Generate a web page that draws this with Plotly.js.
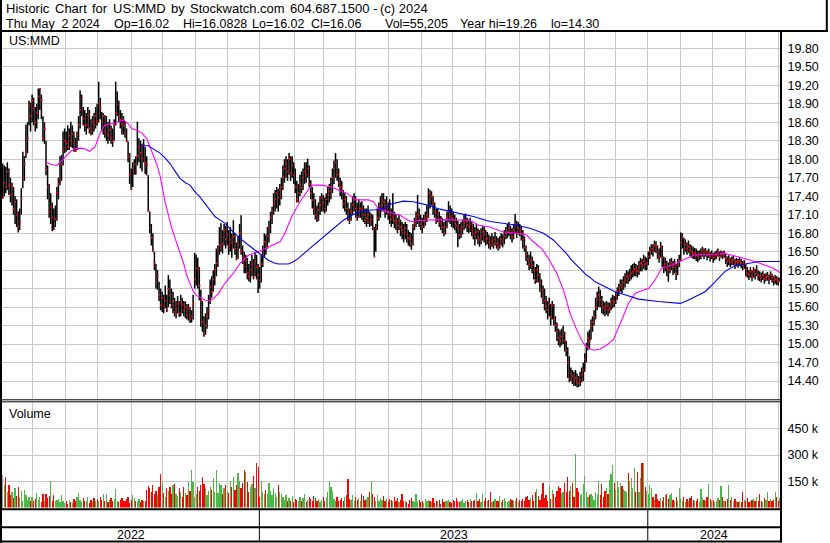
<!DOCTYPE html>
<html><head><meta charset="utf-8">
<script src="https://cdn.plot.ly/plotly-3.0.1.min.js"></script>
<style>html,body{margin:0;padding:0;background:#fff;}#chart{width:830px;height:543px;}</style>
</head><body><div id="chart"></div>
<script>
// ---- data (one entry per trading day, May 3 2022 .. May 2 2024) ----
const close = [
17.38,17.62,17.55,17.80,17.58,17.42,17.55,17.19,17.30,17.10,
16.92,16.99,17.35,17.70,17.92,18.10,18.34,18.88,18.70,18.95,
18.83,18.60,18.75,19.02,19.14,18.96,18.33,18.49,17.83,17.55,
17.15,17.23,17.05,16.87,17.03,17.45,17.60,17.68,17.92,18.15,
18.30,18.26,18.20,18.38,18.30,18.41,18.25,18.13,18.40,18.56,
18.80,18.97,18.66,18.55,18.56,18.72,18.50,18.45,18.61,18.55,
18.70,18.62,18.90,18.83,18.61,18.70,18.45,18.56,18.40,18.48,
18.35,18.30,18.55,18.75,18.89,18.70,18.64,18.58,18.55,18.42,
18.30,18.05,17.75,17.52,17.85,17.92,17.80,18.05,18.20,18.10,
18.02,18.23,17.95,17.91,17.16,16.88,16.72,16.53,16.31,16.01,
16.10,15.80,15.63,15.75,15.61,15.70,15.55,15.90,15.80,15.63,
15.70,15.52,15.58,15.65,15.50,15.66,15.63,15.55,15.60,15.48,
15.58,15.40,15.45,15.65,16.05,16.23,16.21,15.95,15.70,15.36,
15.16,15.30,15.45,15.53,15.93,15.85,16.05,16.20,16.31,16.53,
16.60,16.74,16.62,16.85,16.70,16.78,16.60,16.69,16.64,16.74,
16.55,16.39,16.62,16.80,16.50,16.40,16.26,16.35,16.15,16.09,
16.20,16.28,16.10,16.34,16.25,16.12,16.04,16.30,16.45,16.66,
16.60,16.75,16.88,17.05,17.15,17.28,17.35,17.45,17.38,17.50,
17.55,17.70,17.85,17.93,17.80,18.01,17.77,17.90,17.74,17.55,
17.34,17.45,17.60,17.53,17.70,17.80,17.75,17.85,17.60,17.45,
17.34,17.20,17.10,17.04,17.18,17.25,17.37,17.30,17.20,17.35,
17.42,17.48,17.55,17.70,17.85,17.95,17.75,17.61,17.55,17.50,
17.28,17.35,17.20,17.12,17.01,17.15,17.25,17.34,17.20,17.07,
17.15,17.20,17.18,17.10,17.01,17.05,17.10,16.98,17.02,16.90,
16.42,16.88,17.05,17.15,17.25,17.34,17.30,17.20,17.25,17.15,
17.09,17.02,17.07,17.00,16.98,16.92,17.00,16.90,16.85,16.80,
16.88,16.78,16.72,16.70,16.63,16.90,16.95,17.05,17.10,17.01,
16.95,16.90,17.00,17.05,17.09,17.46,17.35,17.40,17.28,17.15,
17.04,17.10,16.98,16.95,16.90,16.80,16.90,17.05,17.15,17.08,
17.05,17.01,16.95,16.92,16.88,16.77,16.85,16.90,16.96,17.00,
16.93,16.90,16.95,16.85,16.80,16.75,16.82,16.72,16.69,16.75,
16.82,16.78,16.70,16.72,16.65,16.60,16.68,16.62,16.70,16.63,
16.58,16.62,16.70,16.66,16.75,16.80,16.82,16.88,16.80,16.74,
16.85,16.95,16.80,16.88,16.84,16.80,16.70,16.57,16.45,16.38,
16.28,16.35,16.28,16.20,16.04,16.20,16.12,16.00,15.88,15.75,
15.70,15.61,15.55,15.65,15.44,15.63,15.40,15.31,15.20,15.10,
15.04,15.12,15.17,15.05,14.90,14.70,14.44,14.52,14.48,14.41,
14.45,14.38,14.36,14.42,14.50,14.58,14.75,14.96,15.10,15.05,
15.29,15.35,15.44,15.60,15.72,15.80,15.72,15.65,15.60,15.56,
15.62,15.55,15.58,15.65,15.70,15.68,15.77,15.85,15.90,15.96,
15.92,16.00,16.04,16.10,16.07,16.12,16.15,16.18,16.22,16.20,
16.18,16.25,16.31,16.28,16.35,16.30,16.31,16.42,16.50,16.55,
16.52,16.61,16.58,16.50,16.42,16.58,16.40,16.26,16.30,16.22,
16.20,16.28,16.32,16.25,16.30,16.15,16.28,16.36,16.65,16.74,
16.55,16.62,16.55,16.58,16.52,16.50,16.46,16.48,16.44,16.42,
16.45,16.47,16.52,16.46,16.50,16.45,16.48,16.42,16.46,16.40,
16.44,16.45,16.50,16.42,16.47,16.45,16.48,16.40,16.34,16.38,
16.33,16.36,16.36,16.30,16.34,16.32,16.35,16.31,16.28,16.30,
16.22,16.15,16.12,16.18,16.10,16.18,16.14,16.20,16.12,16.10,
16.08,16.12,16.06,16.09,16.10,16.05,16.12,16.08,16.03,16.05,
16.04,16.02,16.06];

const high = [
17.93,17.90,17.88,17.95,17.85,17.70,17.62,17.55,17.40,17.35,
17.15,17.20,17.53,18.12,18.05,18.56,18.60,18.95,18.92,19.05,
19.00,18.85,18.90,19.15,19.15,19.05,18.70,18.60,18.30,17.90,
17.60,17.45,17.30,17.20,17.25,17.55,17.70,18.05,18.07,18.45,
18.50,18.45,18.55,18.50,18.61,18.55,18.45,18.35,18.45,18.70,
19.12,19.05,18.85,18.80,18.75,18.85,18.80,18.65,18.70,18.75,
18.85,18.90,19.26,19.00,18.77,18.75,18.72,18.70,18.60,18.65,
18.55,18.50,18.65,19.26,19.10,18.95,18.80,18.75,18.70,18.62,
18.50,18.29,18.10,17.85,17.95,18.00,18.05,18.61,18.34,18.30,
18.25,18.33,18.20,18.05,17.74,17.15,16.95,16.80,16.50,16.30,
16.20,16.01,15.90,15.85,15.80,15.95,15.80,16.12,16.05,15.90,
15.85,15.75,15.70,15.78,15.70,15.80,15.75,15.70,15.69,15.65,
15.65,15.60,15.55,15.80,16.48,16.45,16.40,16.25,15.88,15.70,
15.45,15.50,15.60,15.80,16.05,16.10,16.20,16.30,16.55,16.60,
16.90,16.96,16.85,16.95,16.92,16.98,16.85,16.90,16.80,17.01,
16.80,16.65,16.75,16.95,17.09,16.60,16.50,16.45,16.40,16.30,
16.35,16.45,16.38,16.50,16.45,16.30,16.25,16.45,16.60,16.80,
16.78,16.90,17.00,17.15,17.23,17.45,17.50,17.55,17.52,17.60,
17.70,17.90,18.00,18.05,18.00,18.10,18.05,18.05,17.95,17.85,
17.65,17.60,17.75,17.80,17.85,17.95,17.95,18.01,17.90,17.66,
17.55,17.45,17.35,17.25,17.30,17.40,17.45,17.42,17.38,17.45,
17.55,17.60,17.70,17.85,17.98,18.10,18.00,17.85,17.70,17.65,
17.50,17.45,17.40,17.30,17.20,17.30,17.40,17.45,17.40,17.30,
17.35,17.30,17.32,17.25,17.20,17.20,17.25,17.15,17.12,17.10,
16.90,16.95,17.20,17.30,17.40,17.45,17.45,17.35,17.40,17.30,
17.35,17.20,17.45,17.15,17.10,17.05,17.10,17.02,16.98,16.95,
16.98,16.95,16.85,16.82,16.80,16.95,17.05,17.15,17.42,17.20,
17.10,17.05,17.10,17.15,17.25,17.53,17.50,17.48,17.40,17.30,
17.20,17.20,17.15,17.08,17.05,16.98,17.02,17.15,17.32,17.25,
17.20,17.15,17.10,17.05,17.00,16.95,16.98,17.02,17.10,17.12,
17.05,17.02,17.05,16.98,16.95,16.90,16.95,16.88,16.85,16.88,
16.92,16.90,16.85,16.82,16.78,16.75,16.80,16.75,16.82,16.75,
16.72,16.75,16.80,16.78,16.85,16.90,16.95,16.98,16.92,16.88,
16.95,17.11,17.00,16.98,16.95,16.92,16.85,16.75,16.60,16.50,
16.45,16.50,16.42,16.35,16.25,16.30,16.28,16.15,16.05,15.95,
15.90,15.78,15.70,15.75,15.65,15.70,15.65,15.45,15.35,15.25,
15.22,15.25,15.30,15.20,15.05,14.95,14.80,14.62,14.58,14.55,
14.58,14.52,14.48,14.55,14.62,14.70,14.85,15.02,15.20,15.23,
15.40,15.45,15.55,15.75,15.85,15.93,15.88,15.78,15.70,15.68,
15.70,15.68,15.67,15.75,15.80,15.78,15.85,15.92,15.98,16.05,
16.05,16.10,16.15,16.20,16.18,16.22,16.28,16.30,16.32,16.30,
16.28,16.35,16.40,16.38,16.45,16.42,16.40,16.50,16.58,16.62,
16.62,16.68,16.67,16.60,16.55,16.66,16.60,16.42,16.40,16.35,
16.32,16.38,16.40,16.35,16.38,16.30,16.38,16.45,16.81,16.80,
16.72,16.70,16.65,16.68,16.62,16.60,16.58,16.56,16.55,16.52,
16.52,16.55,16.58,16.55,16.56,16.52,16.55,16.50,16.52,16.48,
16.50,16.52,16.55,16.50,16.52,16.50,16.52,16.48,16.42,16.44,
16.40,16.42,16.43,16.38,16.40,16.38,16.41,16.38,16.35,16.36,
16.30,16.25,16.20,16.25,16.20,16.25,16.22,16.28,16.20,16.18,
16.16,16.18,16.14,16.15,16.17,16.13,16.18,16.14,16.10,16.12,
16.10,16.08,16.08];

const low = [
17.36,17.40,17.45,17.50,17.42,17.30,17.25,17.10,16.95,16.90,
16.81,16.85,17.10,17.53,17.65,18.02,18.10,18.55,18.45,18.60,
18.55,18.45,18.50,18.65,18.80,18.65,18.29,18.25,17.74,17.35,
17.05,16.95,16.83,16.85,16.90,17.00,17.35,17.58,17.65,17.90,
18.10,18.12,18.15,18.15,18.20,18.18,18.12,18.12,18.15,18.30,
18.50,18.70,18.55,18.45,18.40,18.50,18.42,18.39,18.40,18.45,
18.50,18.55,18.60,18.65,18.45,18.40,18.35,18.30,18.25,18.30,
18.25,18.20,18.30,18.55,18.70,18.60,18.50,18.40,18.40,18.35,
18.28,17.95,17.60,17.50,17.55,17.75,17.75,17.90,17.95,17.85,
17.80,17.95,17.76,17.74,17.15,16.80,16.60,16.50,16.20,15.90,
15.88,15.70,15.55,15.52,15.50,15.58,15.52,15.60,15.65,15.58,
15.50,15.45,15.42,15.50,15.44,15.45,15.50,15.45,15.42,15.40,
15.38,15.34,15.35,15.40,15.90,15.95,15.90,15.71,15.28,15.20,
15.12,15.15,15.25,15.40,15.65,15.75,15.85,15.95,16.10,16.25,
16.45,16.50,16.47,16.60,16.55,16.60,16.45,16.50,16.40,16.55,
16.45,16.36,16.38,16.55,16.45,16.30,16.15,16.15,16.05,16.02,
16.00,16.10,16.05,16.10,16.05,15.83,15.90,16.00,16.25,16.40,
16.45,16.55,16.65,16.80,16.95,17.10,17.15,17.20,17.15,17.25,
17.35,17.50,17.62,17.70,17.65,17.75,17.65,17.70,17.60,17.45,
17.30,17.30,17.40,17.45,17.50,17.60,17.62,17.70,17.55,17.35,
17.20,17.10,17.02,16.98,17.00,17.10,17.15,17.15,17.12,17.15,
17.25,17.30,17.35,17.45,17.60,17.70,17.65,17.55,17.40,17.35,
17.20,17.15,17.10,17.00,16.95,17.00,17.10,17.15,17.05,17.00,
17.05,17.05,17.02,16.98,16.95,16.90,16.95,16.90,16.92,16.85,
16.42,16.50,16.85,17.00,17.05,17.15,17.15,17.05,17.10,17.02,
16.95,16.90,16.95,16.88,16.85,16.80,16.85,16.75,16.70,16.65,
16.70,16.65,16.60,16.58,16.53,16.60,16.85,16.90,16.95,16.90,
16.85,16.80,16.88,16.92,16.98,17.05,17.20,17.25,17.10,17.05,
16.95,16.98,16.90,16.85,16.80,16.75,16.78,16.88,16.98,16.95,
16.90,16.88,16.85,16.80,16.57,16.70,16.72,16.78,16.85,16.88,
16.82,16.80,16.82,16.75,16.70,16.60,16.70,16.62,16.58,16.62,
16.68,16.65,16.60,16.62,16.55,16.53,16.58,16.55,16.60,16.55,
16.52,16.55,16.60,16.57,16.62,16.70,16.72,16.75,16.70,16.65,
16.70,16.80,16.72,16.78,16.75,16.68,16.55,16.50,16.35,16.28,
16.20,16.22,16.15,16.05,15.98,16.00,16.00,15.85,15.75,15.65,
15.55,15.50,15.40,15.45,15.30,15.40,15.30,15.20,15.05,14.98,
14.95,14.98,15.00,14.88,14.80,14.45,14.38,14.40,14.35,14.32,
14.32,14.30,14.30,14.32,14.38,14.40,14.55,14.70,14.90,14.92,
15.07,15.20,15.30,15.40,15.55,15.60,15.60,15.50,15.48,15.45,
15.48,15.45,15.50,15.55,15.58,15.60,15.65,15.72,15.78,15.85,
15.82,15.88,15.92,15.98,15.98,16.02,16.05,16.08,16.10,16.10,
16.08,16.12,16.18,16.18,16.22,16.20,16.20,16.28,16.38,16.45,
16.42,16.50,16.48,16.38,16.32,16.40,16.25,16.15,16.18,16.10,
16.01,16.15,16.20,16.12,16.15,16.04,16.12,16.25,16.35,16.55,
16.45,16.50,16.45,16.48,16.42,16.40,16.38,16.38,16.35,16.33,
16.36,16.38,16.42,16.38,16.42,16.36,16.40,16.34,16.38,16.32,
16.36,16.38,16.42,16.35,16.40,16.38,16.40,16.30,16.25,16.28,
16.25,16.28,16.28,16.22,16.26,16.24,16.27,16.23,16.20,16.22,
16.10,16.08,16.04,16.08,16.02,16.08,16.05,16.10,16.03,16.02,
16.00,16.04,15.98,16.02,16.03,15.97,16.04,16.00,15.95,15.98,
15.96,15.95,16.02];

// daily volume, thousands of shares
const volumeK = [
186,129,177,90,129,70,91,55,110,65,
120,60,95,40,100,72,45,63,40,58,
35,50,82,45,63,30,75,40,75,55,
65,152,40,72,35,45,50,30,72,40,
25,35,20,45,30,25,50,40,60,85,
45,30,55,40,35,60,25,45,30,55,
40,50,35,60,45,75,40,78,30,45,
55,35,50,106,40,30,45,55,35,40,
50,60,25,45,70,55,40,35,50,30,
45,35,40,100,125,110,90,130,75,95,
70,115,192,148,85,60,110,95,120,75,
130,133,80,65,110,90,60,120,85,70,
148,95,215,148,60,75,115,95,130,177,
133,110,70,95,120,100,167,90,215,85,
140,129,75,110,130,95,85,150,120,177,
100,130,196,152,110,140,215,201,148,90,
120,135,180,110,253,234,60,152,90,75,
100,80,139,95,70,110,85,60,129,90,
80,60,45,70,35,55,40,65,30,50,
45,35,60,40,55,75,30,45,60,50,
40,65,55,35,50,30,45,60,40,55,
90,144,120,95,50,40,60,35,45,55,
40,60,70,163,50,45,70,35,60,45,
55,40,75,65,45,50,60,90,152,76,
60,40,70,35,55,45,65,40,50,35,
50,45,35,60,40,55,30,45,78,40,
35,30,20,45,55,40,30,76,35,45,
30,40,25,50,35,45,40,30,55,25,
40,35,45,20,50,30,40,35,45,30,
25,45,35,55,40,30,35,50,25,40,
45,30,50,35,40,45,82,35,50,30,
76,40,55,35,45,91,30,40,50,35,
40,65,30,45,55,35,30,40,50,45,
35,40,55,30,45,40,50,35,60,65,
45,55,70,40,90,106,65,45,80,139,
55,70,40,125,50,100,80,60,95,125,
110,85,90,140,90,177,95,125,139,60,
304,110,90,70,80,133,180,90,60,70,
75,65,45,90,80,152,70,133,60,95,
110,80,158,190,243,139,100,152,120,139,
125,105,95,90,196,152,167,110,228,90,
205,90,171,253,253,120,95,75,129,110,
60,45,75,50,40,55,35,60,72,80,
50,70,82,45,40,60,35,110,55,40,
60,30,50,40,55,65,45,35,40,50,
30,104,55,45,40,60,133,50,35,45,
30,40,55,45,125,60,40,35,50,129,
45,60,35,50,40,30,40,30,91,45,
35,55,30,40,45,50,35,60,40,78,
40,30,55,45,86,40,50,35,45,87,
60,40,55];

// moving averages as drawn (bar position, value)
const maShortIdx = [28,31,35,38,41.3,44,46.7,50,53,56,59.6,62.9,66,71.5,75,77.9,81,83.3,87.6,90,93,95,97.3,99.5,101.6,103,104.9,107,109.2,112,114.5,117,118.8,121,123.2,125,127,130.7,133.9,136.5,139.3,143.6,149,153.3,158.7,165.1,172.6,179.1,182.3,186.7,192,196.3,199.6,206,212.5,216.8,222.2,228.6,236.2,239.4,242.6,248,253.4,256.7,263.1,271.7,282.5,293.3,301.9,307.3,314.8,323.4,332,338.5,342.8,348.2,352.5,357.9,362.2,366.5,370.8,375.1,378.3,382,386,390,394.5,399.9,404.2,408.5,413,417.1,421.4,425.7,432.2,440.8,447.3,455.9,466.6,473.1,479.6,486,492.5,497.9,502];
const maShortVal = [17.95,17.92,17.90,17.98,18.07,18.13,18.17,18.18,18.17,18.13,18.20,18.42,18.56,18.58,18.61,18.64,18.58,18.50,18.46,18.42,18.34,18.22,18.07,17.92,17.74,17.55,17.31,17.10,16.88,16.67,16.50,16.30,16.12,15.98,15.85,15.79,15.77,15.71,15.70,15.75,15.82,15.99,16.15,16.31,16.44,16.50,16.58,16.66,16.80,17.07,17.31,17.47,17.58,17.58,17.55,17.50,17.45,17.34,17.34,17.31,17.20,17.15,17.12,17.09,16.99,17.01,17.02,17.02,17.01,16.93,16.90,16.82,16.80,16.77,16.66,16.55,16.39,16.15,15.88,15.50,15.23,15.01,14.93,14.90,14.92,14.98,15.07,15.39,15.66,15.82,15.87,15.90,16.04,16.23,16.28,16.38,16.45,16.45,16.47,16.43,16.39,16.34,16.28,16.23,16.16];
const maLongIdx = [88.7,91,94.1,97,101.6,105,108.1,111,114.5,118,121,124.2,127,130.7,134,137.1,140,143.6,148,152.2,158,163,167,171.6,175,178,184.5,188,191,195,199.6,203,206,210,213.6,217,220,225.4,231.9,240.5,246.9,250.2,253.4,258.8,265.3,273.9,282.5,293.3,304,314.8,323.4,332,340.6,349.3,355.7,361.1,364.5,367.6,371,374,377,379,382.7,389.1,395.6,402,410.7,423.6,437.6,441,445.1,449,453.7,457,460.2,463.5,466.6,470,473.1,479.6,483.9,488.2,495,502.1];
const maLongVal = [18.20,18.22,18.22,18.17,18.10,18.02,17.93,17.82,17.69,17.62,17.58,17.47,17.40,17.28,17.18,17.07,17.02,16.96,16.84,16.74,16.62,16.53,16.45,16.36,16.32,16.30,16.30,16.34,16.39,16.48,16.58,16.65,16.72,16.80,16.88,16.95,17.01,17.09,17.16,17.18,17.20,17.27,17.29,17.32,17.31,17.26,17.19,17.13,17.07,16.99,16.96,16.93,16.88,16.80,16.69,16.55,16.46,16.36,16.28,16.20,16.12,16.09,16.01,15.93,15.85,15.80,15.73,15.69,15.66,15.69,15.74,15.79,15.85,15.93,16.01,16.10,16.18,16.23,16.27,16.30,16.32,16.34,16.34,16.34];

// calendar: month gridline positions (in bar units) and years
const monthGridIdx = [19.1,40.7,61.4,82.9,103.1,124.7,145.4,165.8,188.2,207.1,228.2,249.1,270.7,290.7,312.0,333.7,353.5,375.5,396.0,416.7,437.6,458.4,479.6,501.0];
const yearLabels = ['2022','2023','2024'];
const yearLabelIdx = [82.7,291.3,459.4];
const yearBreakIdx = [165.8,416.7];

const priceTicks = [14.40,14.70,15.00,15.30,15.60,15.90,16.20,16.50,16.80,17.10,17.40,17.70,18.00,18.30,18.60,18.90,19.20,19.50,19.80];
const volTicks = [150,300,450];
const volTickText = ['150 k','300 k','450 k'];

const headerLine1Words = ['Historic','Chart','for','US:MMD','by','Stockwatch.com','604.687.1500 -','(c) 2024'];
const headerLine1X = [6,54.8,92.1,112.8,171,190.2,289.5,380];
const headerFields = ['Thu May\u00a0\u00a02 2024','Op=16.02','Hi=16.0828','Lo=16.02','Cl=16.06','Vol=55,205','Year hi=19.26','lo=14.30'];
const headerFieldX = [6,114.3,182.7,252,310.7,385,460,550.7];
const symbolLabel = 'US:MMD';
const volumeLabel = 'Volume';

// ---- build traces ----
const W = 830, H = 543;
const px = v => v / W;
const py = v => 1 - v / H;

const barX = [], barY = [];
for (let i = 0; i < close.length; i++) {
  barX.push(i, i, null);
  barY.push(low[i], high[i], null);
}
const idx = close.map((_, i) => i);
const closeX = idx.map(i => i + 0.2);
const volColors = close.map((c, i) => {
  if (i === 0) return '#a0a0a0';
  if (c > close[i - 1]) return '#4cb848';
  if (c < close[i - 1]) return '#ff0000';
  return '#a0a0a0';
});

const traces = [
  {type:'scatter', mode:'lines', x:barX, y:barY, xaxis:'x', yaxis:'y',
   line:{color:'#000', width:1.5}, hoverinfo:'skip', connectgaps:false},
  {type:'scatter', mode:'markers', x:closeX, y:close, xaxis:'x', yaxis:'y',
   marker:{symbol:'square', size:1.7, color:'#ff0000', line:{width:0}}, hoverinfo:'skip'},
  {type:'scatter', mode:'lines', x:maShortIdx, y:maShortVal, xaxis:'x', yaxis:'y',
   line:{color:'#ff00ff', width:1.1}, hoverinfo:'skip'},
  {type:'scatter', mode:'lines', x:maLongIdx, y:maLongVal, xaxis:'x', yaxis:'y',
   line:{color:'#0000ff', width:1.1}, hoverinfo:'skip'},
  {type:'bar', x:idx, y:volumeK, xaxis:'x2', yaxis:'y2', width:0.8,
   marker:{color:volColors, line:{width:0}}, hoverinfo:'skip'}
];

const gridColor = '#c8c8c8';
const fontFam = 'Arial, "Liberation Sans", sans-serif';
const xCommon = {
  range:[-0.45, 502.1], tickvals:monthGridIdx, showticklabels:false, ticks:'',
  showgrid:true, gridcolor:gridColor, gridwidth:1, zeroline:false, showline:false, fixedrange:true
};

const shapes = [];
function hline(y, x0, x1, w) {
  shapes.push({type:'line', xref:'paper', yref:'paper', x0:px(x0), x1:px(x1), y0:py(y), y1:py(y),
    line:{color:'#000', width:w}});
}
function vline(x, y0, y1, w) {
  shapes.push({type:'line', xref:'paper', yref:'paper', x0:px(x), x1:px(x), y0:py(y0), y1:py(y1),
    line:{color:'#000', width:w}});
}
hline(31, 0, 828, 2);        // header bottom
vline(826.8, 0, 31, 2);      // header right edge
vline(1, 0, 543, 2);         // left frame
vline(781, 31, 542.3, 2);    // right frame of the plot
hline(399.8, 0, 782, 1);     // price panel bottom
hline(401.8, 0, 782, 1);     // volume panel top
hline(509.3, 0, 782, 2);     // volume panel bottom
hline(527.3, 0, 782, 2);     // date row divider
hline(541.5, 0, 782, 2);     // bottom frame
yearBreakIdx.forEach(b => shapes.push({type:'line', xref:'x', yref:'paper', x0:b, x1:b,
  y0:py(509.3), y1:py(541.5), line:{color:'#000', width:1}}));

const annotations = [];
function label(text, x, y, size) {
  annotations.push({text:text, xref:'paper', yref:'paper', x:px(x), y:py(y),
    xanchor:'left', yanchor:'middle', showarrow:false, borderpad:0,
    font:{family:fontFam, size:size || 12.5, color:'#000'}});
}
headerLine1Words.forEach((t, k) => label(t, headerLine1X[k] - 1, 8.6, 13));
headerFields.forEach((t, k) => label(t, headerFieldX[k] - 1, 23.6));
label(symbolLabel, 8, 41);
label(volumeLabel, 8, 413.5);
yearLabels.forEach((t, k) => annotations.push({text:t, xref:'x', yref:'paper', x:yearLabelIdx[k], y:py(534.5),
  xanchor:'center', yanchor:'middle', showarrow:false, font:{family:fontFam, size:12.5, color:'#000'}}));

const layout = {
  width:W, height:H,
  margin:{l:0, r:0, t:0, b:0, pad:0},
  paper_bgcolor:'#fff', plot_bgcolor:'#fff',
  showlegend:false, bargap:0,
  font:{family:fontFam, size:12.5, color:'#000'},
  xaxis:Object.assign({domain:[px(2), px(780)], anchor:'y'}, xCommon),
  xaxis2:Object.assign({domain:[px(2), px(780)], anchor:'y2'}, xCommon),
  yaxis:{domain:[py(399), py(32)], range:[14.108, 20.066], anchor:'x', side:'right',
    tickvals:priceTicks, tickformat:'.2f', ticks:'outside', ticklen:4, tickcolor:'rgba(0,0,0,0)',
    showgrid:true, gridcolor:gridColor, gridwidth:1, zeroline:false, showline:false, fixedrange:true,
    tickfont:{family:fontFam, size:12.5, color:'#000'}},
  yaxis2:{domain:[py(507.5), py(402)], range:[0, 604], anchor:'x2', side:'right',
    tickvals:volTicks, ticktext:volTickText, ticks:'outside', ticklen:4, tickcolor:'rgba(0,0,0,0)',
    showgrid:true, gridcolor:gridColor, gridwidth:1, zeroline:false, showline:false, fixedrange:true,
    tickfont:{family:fontFam, size:12.5, color:'#000'}},
  shapes:shapes, annotations:annotations
};

Plotly.newPlot('chart', traces, layout, {staticPlot:true, displayModeBar:false});
</script>
</body></html>
